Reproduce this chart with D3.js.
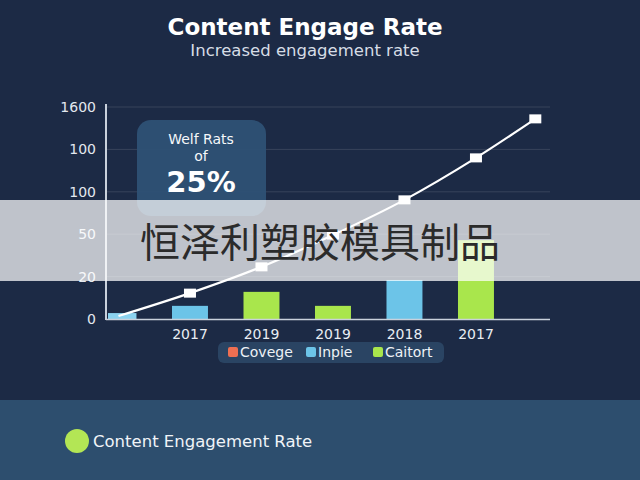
<!DOCTYPE html>
<html><head><meta charset="utf-8">
<script src="https://cdn.jsdelivr.net/npm/d3@7"></script>
<style>html,body{margin:0;padding:0;background:#1c2a45;}svg{display:block;}</style>
</head><body>
<script>
// ---- data ----
const categories = ["", "2017", "2019", "2019", "2018", "2017"];
const barValues = [0.14, 0.31, 0.64, 0.31, 0.92, 1.86];
const barSeries = ["first", "Inpie", "Caitort", "Caitort", "Inpie", "Caitort"];
const yTickLabels = ["0", "20", "50", "100", "100", "1600"];
const lineX = [0, 1, 2, 3, 4, 5, 5.83];
const lineValues = [0.07, 0.61, 1.23, 1.98, 2.81, 3.80, 4.72];
const lineMarkers = [false, true, true, true, true, true, true];
const legendLabels = ["Covege", "Inpie", "Caitort"];
const legendColors = ["#ee6f52", "#6cc4e8", "#a9e64c"];
const title = "Content Engage Rate";
const subtitle = "Increased engagement rate";
const calloutLines = ["Welf Rats", "of", "25%"];
const watermark = "恒泽利塑胶模具制品";
const footerLabel = "Content Engagement Rate";

(function () {
const W = 640, H = 480;
const FONT = "'DejaVu Sans', Verdana, sans-serif";
const svg = d3.select("body").append("svg").attr("width", W).attr("height", H)
  .style("font-family", FONT);

svg.append("rect").attr("width", W).attr("height", H).attr("fill", "#1c2a45");
svg.append("rect").attr("x", 0).attr("y", 400).attr("width", W).attr("height", 80).attr("fill", "#2d4e6e");

// title
svg.append("text").attr("x", 305).attr("y", 35).attr("text-anchor", "middle")
  .attr("fill", "#ffffff").attr("font-size", 23).attr("font-weight", 700).text(title);
svg.append("text").attr("x", 305).attr("y", 56).attr("text-anchor", "middle")
  .attr("fill", "#d6dde6").attr("font-size", 16.5).text(subtitle);

// scales
const pLeft = 106, pRight = 550, pTop = 107, pBottom = 319;
const x = d3.scaleBand().domain(d3.range(categories.length)).range([64.75, 529.7]).paddingInner(0.497).paddingOuter(0.5);
const xc = i => x(i) + x.bandwidth() / 2;
const xLin = d3.scaleLinear().domain([0, 1]).range([xc(0), xc(1)]);
const y = d3.scaleLinear().domain([0, yTickLabels.length - 1]).range([pBottom, pTop]);

// grid
svg.append("g").selectAll("line").data(d3.range(1, yTickLabels.length)).join("line")
  .attr("x1", pLeft).attr("x2", pRight).attr("y1", d => y(d)).attr("y2", d => y(d))
  .attr("stroke", "#ffffff").attr("stroke-opacity", 0.12).attr("stroke-width", 1);

// y axis
const yAxis = d3.axisLeft(y).tickValues(d3.range(yTickLabels.length)).tickFormat(i => yTickLabels[i]).tickSize(0).tickPadding(10);
const ya = svg.append("g").attr("transform", `translate(${pLeft},0)`).call(yAxis);
ya.select(".domain").remove();
ya.selectAll("text").attr("fill", "#e3e8ef").attr("font-size", 14).style("font-family", FONT);

// bars (clipped to plot area)
svg.append("clipPath").attr("id", "plot").append("rect").attr("x", pLeft + 2).attr("y", 0).attr("width", pRight - pLeft).attr("height", pBottom);
const colorOf = s => s === "first" ? "#8ad2ef" : (s === "Inpie" ? legendColors[1] : legendColors[2]);
svg.append("g").attr("clip-path", "url(#plot)").selectAll("rect").data(barValues).join("rect")
  .attr("x", (d, i) => x(i)).attr("width", x.bandwidth())
  .attr("y", d => y(d)).attr("height", d => y(0) - y(d))
  .attr("fill", (d, i) => colorOf(barSeries[i]));

// axes lines
svg.append("line").attr("x1", pLeft).attr("x2", pLeft).attr("y1", 104).attr("y2", pBottom + 1)
  .attr("stroke", "#c9d1dc").attr("stroke-width", 2);
svg.append("line").attr("x1", pLeft).attr("x2", pRight).attr("y1", pBottom + 0.5).attr("y2", pBottom + 0.5)
  .attr("stroke", "#c9d1dc").attr("stroke-width", 1.5);

// x labels
const xAxis = d3.axisBottom(x).tickFormat(i => categories[i]).tickSize(0).tickPadding(10);
const xa = svg.append("g").attr("transform", `translate(0,${pBottom})`).call(xAxis);
xa.select(".domain").remove();
xa.selectAll("text").attr("fill", "#e8edf3").attr("font-size", 14).style("font-family", FONT);

// line
const pts = lineX.map((v, i) => [xLin(v), y(lineValues[i])]);
svg.append("path").datum(pts).attr("d", d3.line().curve(d3.curveMonotoneX))
  .attr("fill", "none").attr("stroke", "#ffffff").attr("stroke-width", 2.2);
svg.append("g").selectAll("rect").data(pts.filter((p, i) => lineMarkers[i])).join("rect")
  .attr("x", d => d[0] - 6).attr("y", d => d[1] - 4.5)
  .attr("width", 12).attr("height", 9).attr("fill", "#ffffff");

// callout
svg.append("rect").attr("x", 137).attr("y", 120).attr("width", 129).attr("height", 96).attr("rx", 14)
  .attr("fill", "#2e5175").attr("fill-opacity", 0.95);
svg.append("text").attr("x", 201).attr("y", 144).attr("text-anchor", "middle").attr("fill", "#f6f8fa")
  .attr("font-size", 14).text(calloutLines[0]);
svg.append("text").attr("x", 201).attr("y", 161).attr("text-anchor", "middle").attr("fill", "#f6f8fa")
  .attr("font-size", 14).text(calloutLines[1]);
svg.append("text").attr("x", 201).attr("y", 192).attr("text-anchor", "middle").attr("fill", "#ffffff")
  .attr("font-size", 29).attr("font-weight", 700).text(calloutLines[2]);

// legend
svg.append("rect").attr("x", 218).attr("y", 342).attr("width", 226).attr("height", 21).attr("rx", 6).attr("fill", "#2a4463");
const legX = [228, 306, 373];
const lg = svg.append("g").selectAll("g").data(legendLabels).join("g")
  .attr("transform", (d, i) => `translate(${legX[i]},352)`);
lg.append("rect").attr("x", 0).attr("y", -5).attr("width", 10).attr("height", 10).attr("rx", 2).attr("fill", (d, i) => legendColors[i]);
lg.append("text").attr("x", 12).attr("y", 5).attr("fill", "#eef2f6").attr("font-size", 14).text(d => d);

// overlay band + watermark
svg.append("rect").attr("x", 0).attr("y", 200).attr("width", W).attr("height", 81).attr("fill", "#ffffff").attr("fill-opacity", 0.72);
svg.append("text").attr("x", 320).attr("y", 257).attr("text-anchor", "middle").attr("fill", "#2b2b2b")
  .attr("font-size", 40).style("font-family", "'Noto Sans CJK SC', sans-serif").text(watermark);

// footer
svg.append("circle").attr("cx", 77).attr("cy", 441).attr("r", 12).attr("fill", "#b3e655");
svg.append("text").attr("x", 93).attr("y", 447).attr("fill", "#f0f4f8").attr("font-size", 16.5).text(footerLabel);
})();
</script>
</body></html>
